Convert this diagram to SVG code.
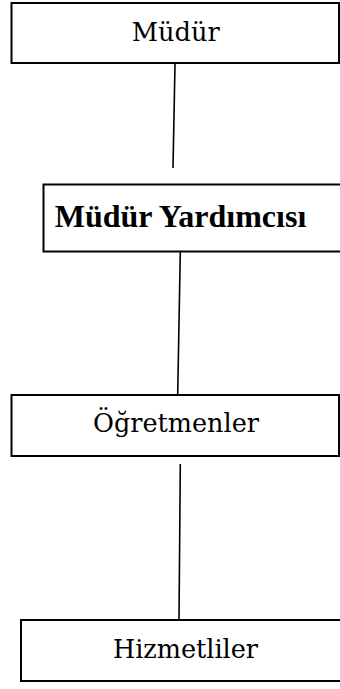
<svg xmlns="http://www.w3.org/2000/svg" width="340" height="689" viewBox="0 0 340 689">
<style>
.box{fill:#fff;stroke:#000;stroke-width:2}
.lbl{font-family:"DejaVu Serif","Liberation Serif",serif;font-size:25.5px;fill:#000;text-anchor:middle}
.bold{font-family:"Liberation Serif",serif;font-size:32px;font-weight:bold;fill:#000;text-anchor:middle}
.conn{stroke:#000;stroke-width:1.6;fill:none}
</style>
<rect width="340" height="689" fill="#fff"/>
<g id="connectors">
<line class="conn" x1="175" y1="64" x2="173" y2="168"/>
<line class="conn" x1="180.3" y1="252" x2="177.7" y2="394"/>
<line class="conn" x1="180.3" y1="464" x2="179" y2="620"/>
</g>
<g id="mudur">
<rect class="box" x="11.5" y="3" width="327.5" height="60"/>
<text class="lbl" x="175.8" y="41" textLength="88" lengthAdjust="spacingAndGlyphs">Müdür</text>
</g>
<g id="mudur-yardimcisi">
<rect class="box" x="43.5" y="184.5" width="300" height="67"/>
<text class="bold" x="180.5" y="227">Müdür Yardımcısı</text>
</g>
<g id="ogretmenler">
<rect class="box" x="11.5" y="395" width="327.5" height="61"/>
<text class="lbl" x="176" y="431.5">Öğretmenler</text>
</g>
<g id="hizmetliler">
<rect class="box" x="21" y="620" width="322" height="61"/>
<text class="lbl" x="185.5" y="657.5">Hizmetliler</text>
</g>
</svg>
